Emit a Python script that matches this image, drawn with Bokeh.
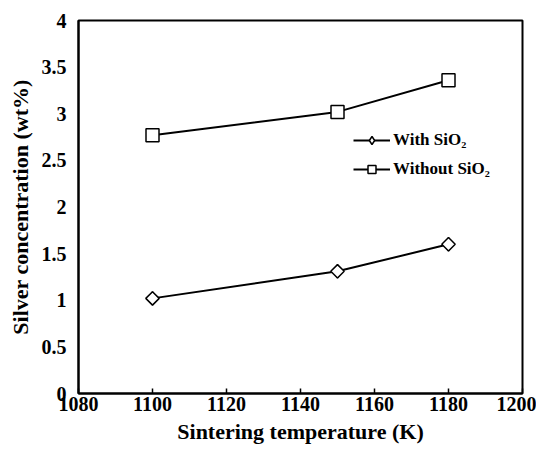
import math
from bokeh.plotting import figure
from bokeh.models import Range1d, Legend, LegendItem, FixedTicker
from bokeh.embed import file_html
from bokeh.resources import INLINE

temps = [1100, 1150, 1180]
with_sio2 = [1.02, 1.31, 1.60]
without_sio2 = [2.77, 3.02, 3.36]
x_ticks = [1080, 1100, 1120, 1140, 1160, 1180, 1200]
y_ticks = [0, 0.5, 1, 1.5, 2, 2.5, 3, 3.5, 4]

FONT = "'Liberation Serif', 'Times New Roman', serif"

p = figure(width=536, height=446, output_backend="svg", toolbar_location=None,
           x_range=Range1d(1080, 1200), y_range=Range1d(0, 4),
           min_border_left=78, min_border_right=14, min_border_top=20, min_border_bottom=49)
p.grid.visible = False
p.outline_line_color = "black"
p.outline_line_width = 2
p.background_fill_color = "white"
p.border_fill_color = "white"

for ax in (p.xaxis[0], p.yaxis[0]):
    ax.axis_line_width = 2
    ax.axis_line_color = "black"
    ax.major_label_text_font = FONT
    ax.major_label_text_font_style = "bold"
    ax.major_label_text_font_size = "20px"
    ax.major_label_text_color = "black"
    ax.axis_label_text_font = FONT
    ax.axis_label_text_font_style = "bold"
    ax.axis_label_text_font_size = "22px"
    ax.axis_label_text_color = "black"
    ax.minor_tick_line_color = None

p.xaxis.ticker = FixedTicker(ticks=x_ticks)
p.yaxis.ticker = FixedTicker(ticks=y_ticks)
p.xaxis.major_tick_in = 5
p.xaxis.major_tick_out = 0
p.xaxis.major_tick_line_width = 1.5
p.yaxis.major_tick_in = 0
p.yaxis.major_tick_out = 0
p.xaxis.major_label_standoff = 3
p.yaxis.major_label_standoff = 12
p.xaxis.axis_label = "Sintering temperature (K)"
p.yaxis.axis_label = "Silver concentration (wt%)"
p.xaxis.axis_label_standoff = 5
p.yaxis.axis_label_standoff = 6

l1 = p.line(temps, with_sio2, line_color="black", line_width=2)
# diamond marker used for the legend entry; drawn underneath the rotated squares
d1 = p.scatter(temps, with_sio2, marker="diamond", size=13, fill_color="white",
               line_color="black", line_width=1.5)
s1 = p.scatter(temps, with_sio2, marker="square", angle=math.pi / 4, size=9.5,
               fill_color="white", line_color="black", line_width=1.5)
l2 = p.line(temps, without_sio2, line_color="black", line_width=2)
s2 = p.scatter(temps, without_sio2, marker="square", size=13, fill_color="white",
               line_color="black", line_width=1.5)

legend = Legend(items=[LegendItem(label="With SiO₂", renderers=[l1, d1]),
                       LegendItem(label="Without SiO₂", renderers=[l2, s2])],
                location=(275, 214))
legend.background_fill_alpha = 0
legend.border_line_color = None
legend.label_text_font = FONT
legend.label_text_font_style = "bold"
legend.label_text_font_size = "17px"
legend.label_text_color = "black"
legend.glyph_width = 37
legend.glyph_height = 20
legend.label_standoff = 3
legend.spacing = 9
legend.padding = 0
legend.margin = 0
p.add_layout(legend, "center")

open("out.html", "w").write(file_html(p, INLINE))
